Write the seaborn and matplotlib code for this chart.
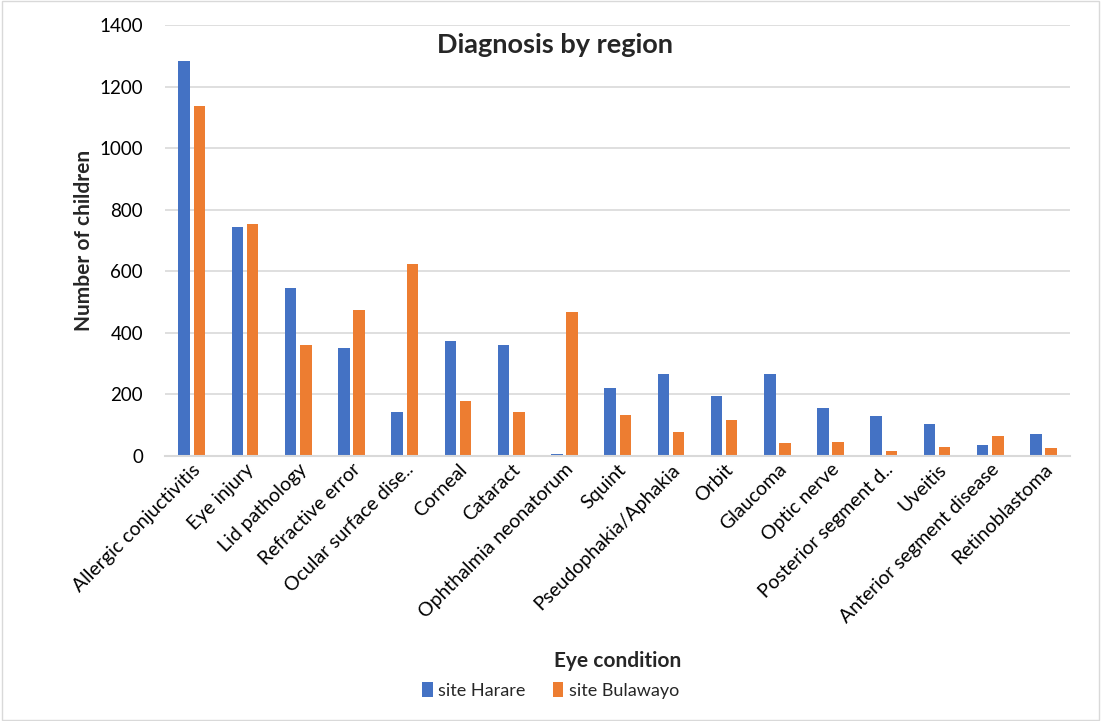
import matplotlib
matplotlib.use("Agg")
import matplotlib.pyplot as plt
import seaborn as sns
import pandas as pd
from matplotlib.patches import Rectangle

conditions = ["Allergic conjuctivitis", "Eye injury", "Lid pathology", "Refractive error",
              "Ocular surface dise..", "Corneal", "Cataract", "Ophthalmia neonatorum",
              "Squint", "Pseudophakia/Aphakia", "Orbit", "Glaucoma", "Optic nerve",
              "Posterior segment d..", "Uveitis", "Anterior segment disease", "Retinoblastoma"]
harare = [1285, 743, 547, 350, 144, 375, 360, 6, 221, 266, 194, 267, 156, 129, 104, 36, 70]
bulawayo = [1136, 753, 362, 473, 623, 178, 143, 468, 134, 77, 116, 42, 46, 15, 29, 64, 26]
sites = ["site Harare", "site Bulawayo"]

df = pd.DataFrame({
    "condition": conditions * 2,
    "count": harare + bulawayo,
    "site": [sites[0]] * len(conditions) + [sites[1]] * len(conditions),
})

sns.set_style("white")
plt.rcParams["font.family"] = ["Lato", "DejaVu Sans"]

fig = plt.figure(figsize=(11.01, 7.21), dpi=100)
ax = fig.add_axes([0.15, 0.3675, 0.822, 0.5975])

sns.barplot(data=df, x="condition", y="count", hue="site", order=conditions,
            hue_order=sites, palette=["#4472C4", "#ED7D31"], saturation=1,
            width=0.572, gap=0.245, edgecolor="none", ax=ax)

ax.set_ylim(0, 1400)
ax.set_yticks(range(0, 1401, 200))
ax.grid(axis="y", color="#D9D9D9", linewidth=1.2)
ax.set_axisbelow(True)
for s in ["top", "right", "left"]:
    ax.spines[s].set_visible(False)
ax.spines["bottom"].set_color("#D9D9D9")
ax.spines["bottom"].set_linewidth(1.5)
ax.tick_params(axis="both", length=0, colors="#000000")
ax.tick_params(axis="y", pad=16, labelsize=13.5)
ax.set_xticks(range(len(conditions)))
ax.set_xticklabels(conditions, rotation=45, ha="right", rotation_mode="anchor", fontsize=14)

ax.set_xlabel("Eye condition", fontsize=15, fontweight="bold", labelpad=18)
ax.set_ylabel("Number of children", fontsize=15, fontweight="bold", labelpad=4)
ax.text(0.431, 0.955, "Diagnosis by region", transform=ax.transAxes, ha="center",
        va="center", fontsize=19.5, fontweight="bold")

ax.legend(loc="center", bbox_to_anchor=(0.5, 0.042), bbox_transform=fig.transFigure,
          ncol=2, frameon=False, fontsize=13, handlelength=0.6, handleheight=0.9,
          columnspacing=1.5, handletextpad=0.3)

fig.patches.append(Rectangle((0.002, 0.002), 0.996, 0.996, transform=fig.transFigure,
                             fill=False, edgecolor="#D9D9D9", linewidth=1))

fig.savefig("out.png", dpi=100)
